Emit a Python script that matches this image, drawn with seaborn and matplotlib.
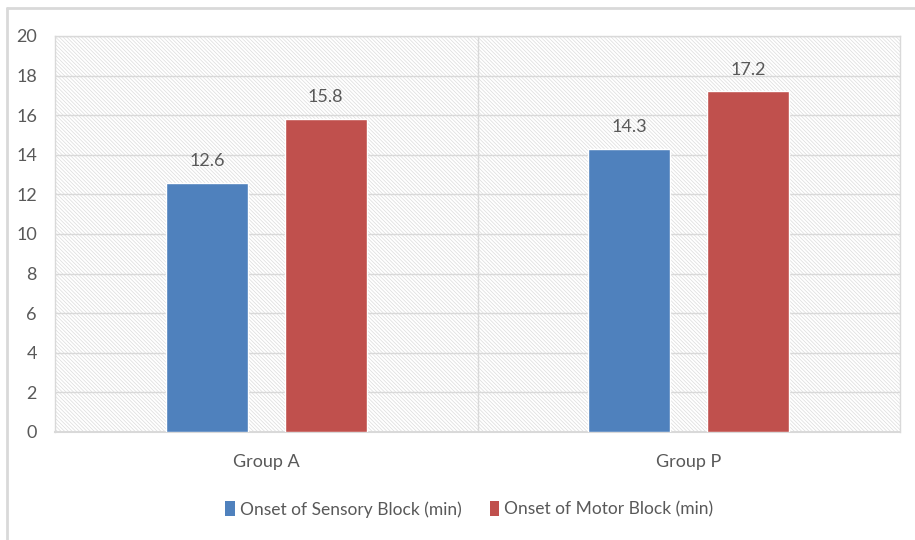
import matplotlib
matplotlib.use("Agg")
import matplotlib.pyplot as plt
from matplotlib.lines import Line2D
from matplotlib.patches import Patch
import pandas as pd
import seaborn as sns

groups = ["Group A", "Group P"]
series = ["Onset of Sensory Block (min)", "Onset of Motor Block (min)"]
sensory = [12.6, 14.3]
motor = [15.8, 17.2]
y_ticks = [0, 2, 4, 6, 8, 10, 12, 14, 16, 18, 20]

colors = ["#4F81BD", "#C0504D"]
grid_c = "#D9D9D9"
text_c = "#595959"

df = pd.DataFrame({
    "group": groups * 2,
    "series": [series[0]] * len(groups) + [series[1]] * len(groups),
    "value": sensory + motor,
})

sns.set_theme(style="white")
plt.rcParams["font.family"] = ["Lato", "DejaVu Sans"]
plt.rcParams["hatch.color"] = "#DCDCDC"
plt.rcParams["hatch.linewidth"] = 0.5

fig = plt.figure(figsize=(9.15, 5.4), dpi=100)
ax = fig.add_axes([55 / 915, 108 / 540, 845 / 915, 396 / 540])

# finely hatched plot background
ax.patch.set_facecolor("white")
ax.patch.set_hatch("\\" * 9)
ax.patch.set_edgecolor("#DCDCDC")

sns.barplot(data=df, x="group", y="value", hue="series", order=groups,
            hue_order=series, palette=colors, width=0.563, gap=0.31,
            saturation=1, ax=ax, legend=False, zorder=3)

for cont in ax.containers:
    ax.bar_label(cont, fmt="%.1f", padding=10, fontsize=13, color=text_c)

ax.set_xlim(-0.5, 1.5)
ax.set_ylim(0, 20)
ax.set_yticks(y_ticks)
ax.yaxis.grid(True, color=grid_c, linewidth=1, zorder=1)
ax.axvline(0.5, color=grid_c, linewidth=1, zorder=1)
ax.set_axisbelow(True)
ax.set_xlabel("")
ax.set_ylabel("")
ax.tick_params(axis="y", length=0, pad=13, labelsize=13, labelcolor=text_c)
ax.tick_params(axis="x", length=0, pad=16, labelsize=13, labelcolor=text_c)
for s in ax.spines.values():
    s.set_color(grid_c)
    s.set_linewidth(1)
ax.spines["bottom"].set_linewidth(1.5)

handles = [Patch(facecolor=c, edgecolor="none") for c in colors]
fig.legend(handles, series, loc="center", bbox_to_anchor=(0.513, 0.057),
           ncol=2, frameon=False, fontsize=12.5, labelcolor=text_c,
           handlelength=0.55, handleheight=0.9, handletextpad=0.3,
           columnspacing=1.6)

# outer chart frame (top and left edges)
fig.add_artist(Line2D([7 / 915, 1], [1 - 8 / 540] * 2, transform=fig.transFigure,
                      color=grid_c, linewidth=2))
fig.add_artist(Line2D([7 / 915] * 2, [0, 1 - 8 / 540], transform=fig.transFigure,
                      color=grid_c, linewidth=2))

fig.savefig("out.png", dpi=100)
